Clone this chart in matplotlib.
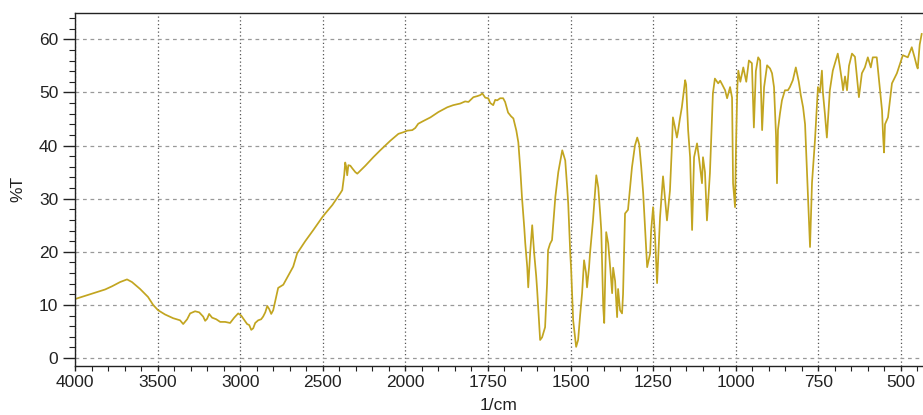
import numpy as np
import matplotlib
matplotlib.use("Agg")
import matplotlib.pyplot as plt
from matplotlib.ticker import FixedLocator

# ---- data (wavenumber in 1/cm, transmittance in %T) ----
wavenumber = [
    4000, 3909, 3848, 3818, 3776, 3727, 3685, 3655, 3606, 3558, 3527, 3497, 3455, 3406,
    3364, 3345, 3321, 3303, 3273, 3248, 3224, 3212, 3200, 3188, 3170, 3145, 3121, 3091,
    3061, 3036, 3012, 2994, 2976, 2958, 2945, 2933, 2921, 2909, 2891, 2873, 2861, 2848,
    2836, 2824, 2812, 2800, 2782, 2770, 2739, 2709, 2679, 2655, 2606, 2557, 2503, 2485,
    2442, 2394, 2382, 2370, 2364, 2358, 2352, 2345, 2333, 2321, 2303, 2291, 2242, 2194,
    2152, 2091, 2042, 2012, 1994, 1979, 1970, 1961, 1946, 1924, 1900, 1873, 1855, 1834,
    1819, 1809, 1794, 1782, 1773, 1767, 1758, 1749, 1743, 1734, 1728, 1722, 1713, 1704,
    1698, 1689, 1680, 1673, 1664, 1658, 1652, 1647, 1640, 1637, 1631, 1628, 1622, 1616,
    1610, 1604, 1601, 1595, 1592, 1586, 1577, 1571, 1568, 1562, 1556, 1546, 1537, 1525,
    1516, 1510, 1507, 1501, 1498, 1492, 1483, 1477, 1471, 1465, 1459, 1453, 1450, 1444,
    1441, 1432, 1422, 1416, 1410, 1407, 1401, 1398, 1392, 1386, 1380, 1374, 1371, 1365,
    1359, 1356, 1350, 1344, 1341, 1335, 1326, 1320, 1314, 1305, 1298, 1292, 1286, 1280,
    1274, 1268, 1259, 1256, 1250, 1244, 1238, 1229, 1220, 1214, 1208, 1199, 1193, 1190,
    1184, 1178, 1175, 1169, 1163, 1153, 1150, 1144, 1138, 1132, 1126, 1117, 1111, 1102,
    1099, 1093, 1087, 1078, 1072, 1069, 1063, 1053, 1047, 1041, 1032, 1026, 1017, 1011,
    1008, 1002, 999, 995, 992, 986, 977, 968, 960, 951, 945, 939, 932, 926, 920, 914,
    905, 896, 890, 884, 878, 875, 872, 866, 860, 851, 842, 836, 827, 818, 809, 803, 796,
    790, 784, 778, 775, 772, 769, 760, 751, 745, 739, 736, 730, 724, 715, 706, 691, 685,
    678, 675, 669, 663, 657, 648, 639, 633, 627, 618, 609, 600, 591, 585, 573, 570, 564,
    557, 554, 551, 548, 539, 533, 527, 512, 494, 479, 467, 458, 452, 449, 443, 437,
]
transmittance = [
    11.1, 12.0, 12.6, 12.9, 13.5, 14.3, 14.8, 14.3, 13.0, 11.5, 10.0, 9.0, 8.2, 7.5,
    7.1, 6.4, 7.3, 8.4, 8.8, 8.6, 7.8, 7.0, 7.4, 8.3, 7.6, 7.3, 6.8, 6.8,
    6.6, 7.6, 8.4, 8.0, 7.2, 6.4, 6.2, 5.3, 5.6, 6.6, 7.1, 7.3, 7.8, 8.6,
    9.8, 9.2, 8.3, 9.0, 11.5, 13.2, 13.8, 15.5, 17.2, 19.7, 22.0, 24.1, 26.5, 27.2,
    28.8, 31.0, 31.6, 34.5, 36.8, 36.0, 34.4, 36.3, 36.2, 35.7, 35.0, 34.7, 36.2, 37.8,
    39.1, 40.9, 42.2, 42.5, 42.8, 42.9, 43.3, 44.1, 44.6, 45.3, 46.3, 47.2, 47.6, 47.9,
    48.3, 48.2, 49.1, 49.3, 49.5, 49.8, 49.0, 48.9, 48.0, 47.6, 48.6, 48.5, 48.9, 48.9,
    48.2, 46.2, 45.5, 45.1, 42.8, 40.6, 35.5, 30.3, 24.5, 21.6, 17.1, 13.3, 20.0, 25.0,
    19.7, 15.5, 12.8, 6.5, 3.4, 3.9, 5.8, 14.0, 20.3, 21.5, 22.2, 30.3, 35.0, 39.1,
    37.2, 32.0, 29.1, 20.0, 16.5, 7.1, 2.1, 3.4, 8.0, 12.2, 18.4, 16.0, 13.3, 17.0,
    19.7, 25.9, 34.4, 32.1, 27.0, 24.1, 9.6, 6.6, 23.7, 21.6, 17.1, 12.2, 17.0, 14.5,
    7.7, 13.0, 9.0, 8.4, 12.0, 27.2, 27.9, 32.0, 35.9, 40.0, 41.5, 40.2, 36.0, 31.0,
    24.0, 17.1, 19.7, 24.0, 28.4, 22.7, 14.1, 26.5, 34.2, 30.0, 25.9, 31.5, 40.0, 45.3,
    43.5, 41.5, 42.5, 45.0, 47.2, 52.3, 51.5, 42.9, 37.8, 24.1, 37.8, 40.4, 37.6, 32.9,
    37.8, 35.0, 25.9, 34.8, 45.0, 49.8, 52.6, 51.7, 52.2, 51.5, 50.4, 48.9, 51.0, 49.0,
    32.9, 28.4, 40.0, 51.0, 54.1, 52.0, 54.7, 52.0, 56.0, 55.5, 43.4, 54.0, 56.6, 56.0, 42.9, 51.0,
    55.1, 54.5, 53.6, 51.0, 42.0, 32.9, 43.0, 46.0, 48.5, 50.4, 50.4, 51.0, 52.3, 54.7, 52.0, 49.5, 47.2,
    44.0, 34.8, 25.9, 20.9, 27.0, 33.0, 41.0, 51.0, 50.0, 54.1, 50.0, 46.0, 41.5, 50.4, 54.1, 57.3, 55.0,
    52.0, 50.4, 53.0, 50.4, 55.0, 57.3, 56.7, 53.0, 49.1, 53.6, 54.7, 56.6, 54.7, 56.6, 56.6, 54.7, 51.0,
    46.6, 42.0, 38.7, 44.0, 45.3, 48.5, 51.7, 53.6, 57.0, 56.6, 58.5, 56.5, 55.0, 54.5, 59.0, 61.0,
]

x_major = [4000, 3500, 3000, 2500, 2000, 1750, 1500, 1250, 1000, 750, 500]
y_major = [0, 10, 20, 30, 40, 50, 60]


def fwd(x):
    x = np.asarray(x, dtype=float)
    return np.where(x >= 2000, x, 2 * x - 2000)


def inv(y):
    y = np.asarray(y, dtype=float)
    return np.where(y >= 2000, y, (y + 2000) / 2)


plt.rcParams['font.family'] = ['Liberation Sans', 'DejaVu Sans']

fig = plt.figure(figsize=(9.23, 4.15), dpi=100)
ax = fig.add_axes([75 / 923, 49 / 415, 1 - 75 / 923, (366 - 12.7) / 415])

ax.set_xscale('function', functions=(fwd, inv))
ax.plot(wavenumber, transmittance, color='#c2a520', lw=1.25)
ax.set_xlim(4000, 433)
ax.set_ylim(-1.5, 65)

x_minor = list(range(4000, 2000, -100)) + list(range(2000, 400, -50))
ax.xaxis.set_major_locator(FixedLocator(x_major))
ax.xaxis.set_minor_locator(FixedLocator(x_minor))
ax.yaxis.set_major_locator(FixedLocator(y_major))
ax.yaxis.set_minor_locator(FixedLocator(list(range(0, 66, 2))))
ax.set_xticklabels([str(v) for v in x_major])

ax.grid(axis='y', which='major', color='#999999', linestyle=(0, (3, 3)), lw=0.9)
ax.grid(axis='x', which='major', color='#555555', linestyle=(0, (1, 2)), lw=0.9)

ax.tick_params(axis='y', which='major', length=9, width=1, labelsize=12.5, pad=3, colors='#222222')
ax.tick_params(axis='y', which='minor', length=4, width=0.8, colors='#222222')
ax.tick_params(axis='x', which='major', length=3.5, width=1, labelsize=12.5, pad=3, colors='#222222')
ax.tick_params(axis='x', which='minor', length=3.5, width=0.8, colors='#222222')

for s in ['left', 'bottom', 'top']:
    ax.spines[s].set_color('#222222')
    ax.spines[s].set_linewidth(1.0)
ax.spines['right'].set_visible(False)

ax.set_ylabel('%T', fontsize=12.5, color='#222222', labelpad=10)
ax.set_xlabel('1/cm', fontsize=12.5, color='#222222', labelpad=6)

fig.savefig('out.png', dpi=100)
